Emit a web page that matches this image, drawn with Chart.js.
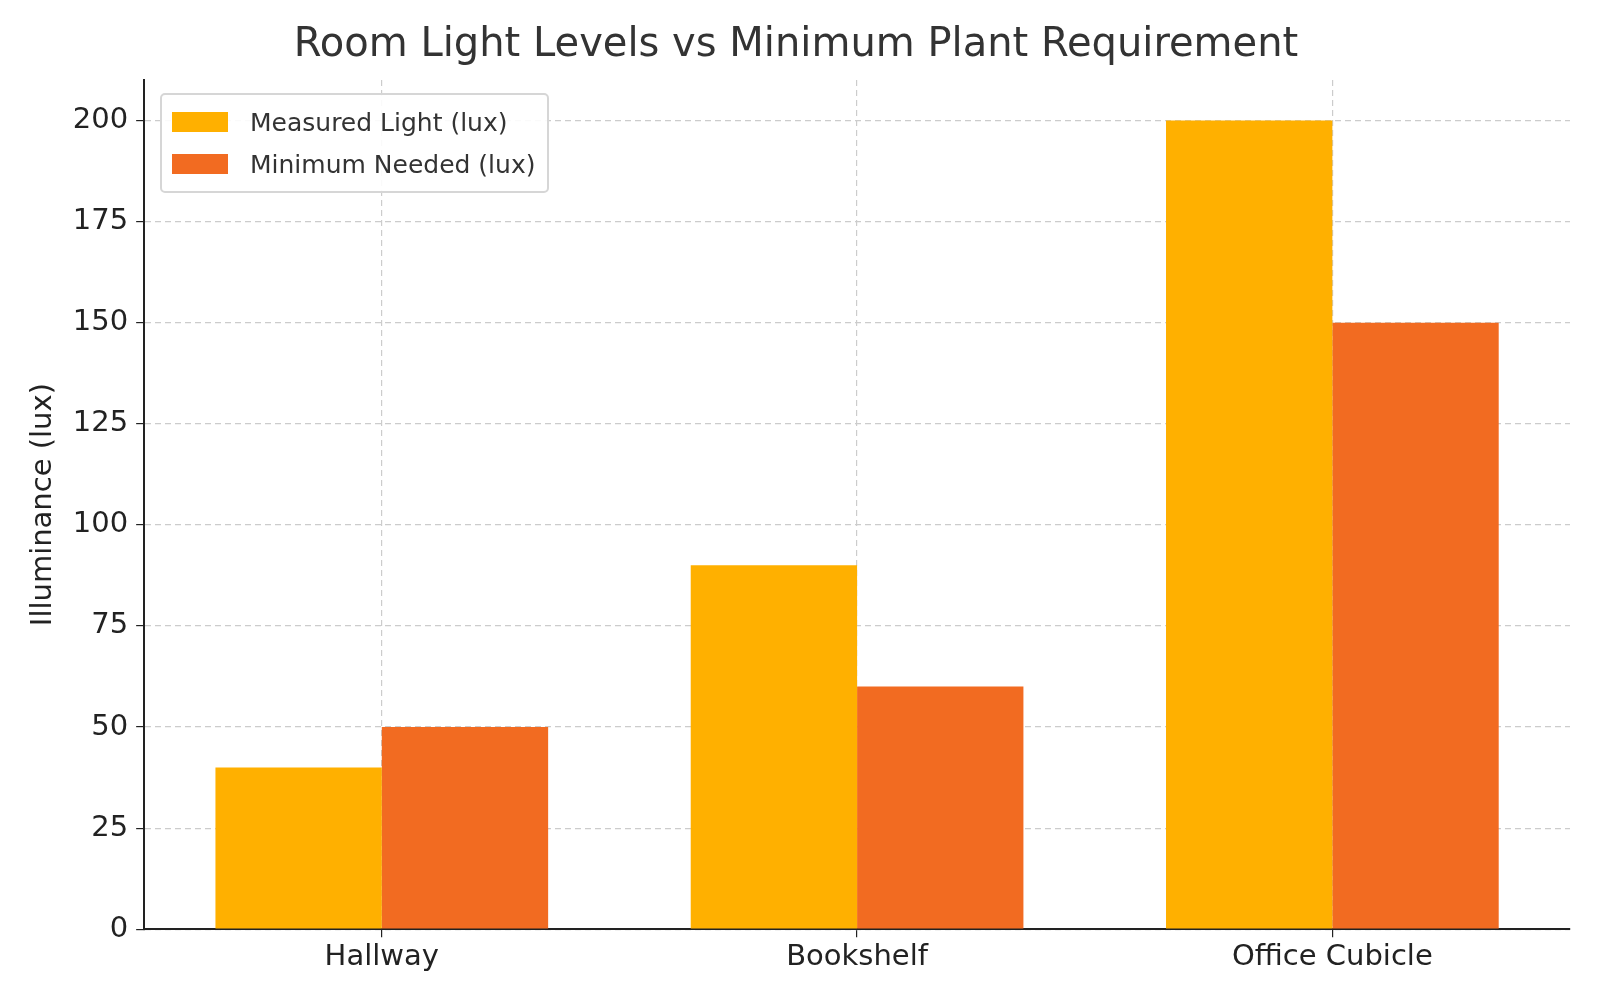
<!DOCTYPE html>
<html>
<head>
<meta charset="utf-8">
<script src="https://cdn.jsdelivr.net/npm/chart.js@4"></script>
<style>
  body { margin: 0; background: #fff; }
  #wrap { position: relative; width: 1600px; height: 1000px; }
  #legend {
    position: absolute; left: 160px; top: 93px;
    border: 2px solid #d6d6d6; border-radius: 5px; background: rgba(255,255,255,0.9);
    padding: 6px 12px 6px 10px; font-family: "DejaVu Sans", sans-serif; font-size: 25px; color: #333;
  }
  #legend div { display: flex; align-items: center; height: 42px; }
  #legend span.box { display: inline-block; width: 56px; height: 20px; margin-right: 22px; }
</style>
</head>
<body>
<div id="wrap">
  <canvas id="chart" width="1600" height="1000"></canvas>
  <div id="legend"></div>
</div>
<script>
const rooms = ["Hallway", "Bookshelf", "Office Cubicle"];
const measured = [40, 90, 200];
const minimum = [50, 60, 150];
const seriesNames = ["Measured Light (lux)", "Minimum Needed (lux)"];
const seriesColors = ["#ffb000", "#f26b21"];
const yTicks = [0, 25, 50, 75, 100, 125, 150, 175, 200];

const legend = document.getElementById("legend");
seriesNames.forEach((name, i) => {
  const row = document.createElement("div");
  row.innerHTML = '<span class="box" style="background:' + seriesColors[i] + '"></span>' + name;
  legend.appendChild(row);
});

const gridStyle = { color: "#cccccc", lineWidth: 1.2, tickLength: 8, tickColor: "#222" };

new Chart(document.getElementById("chart").getContext("2d"), {
  type: "bar",
  data: {
    labels: rooms,
    datasets: [
      { label: seriesNames[0], data: measured, backgroundColor: seriesColors[0] },
      { label: seriesNames[1], data: minimum, backgroundColor: seriesColors[1] },
    ],
  },
  options: {
    responsive: false,
    animation: false,
    categoryPercentage: 0.7,
    barPercentage: 1.0,
    layout: { padding: { left: 22, right: 30, top: 8, bottom: 22 } },
    plugins: {
      legend: { display: false },
      tooltip: { enabled: false },
      title: {
        display: true,
        text: "Room Light Levels vs Minimum Plant Requirement",
        font: { family: "DejaVu Sans", size: 40, weight: "normal" },
        color: "#333",
        padding: { top: 14, bottom: 10 },
      },
    },
    scales: {
      x: {
        offset: true,
        grid: { ...gridStyle, offset: false },
        border: { color: "#222", width: 2, dash: [6, 4] },
        ticks: { font: { family: "DejaVu Sans", size: 29 }, color: "#222" },
      },
      y: {
        min: 0,
        max: 210,
        afterBuildTicks: (axis) => { axis.ticks = yTicks.map((v) => ({ value: v })); },
        grid: gridStyle,
        border: { color: "#222", width: 2, dash: [6, 4] },
        ticks: { font: { family: "DejaVu Sans", size: 29 }, color: "#222", padding: 8 },
        title: { display: true, text: "Illuminance (lux)", font: { family: "DejaVu Sans", size: 29 }, color: "#222" },
      },
    },
  },
});
</script>
</body>
</html>
